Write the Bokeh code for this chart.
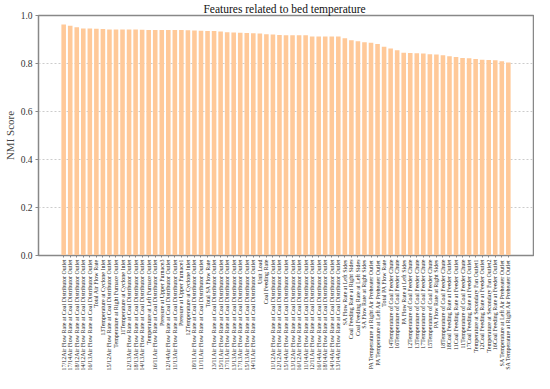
import math
from bokeh.plotting import figure
from bokeh.models import FixedTicker, Range1d, ColumnDataSource
from bokeh.embed import file_html
from bokeh.resources import INLINE

AF = "Air Flow Rate at Coal Distributor Outlet"
CFC = "Temperature of Coal Feeder Chute"
CFR = "Coal Feeding Rate at Feeder Outlet"

features = [
    "17/12" + AF, "17/14" + AF, "18/12" + AF, "14/12" + AF, "16/13" + AF,
    "Total Air Flow Rate", "13Temperature at Cyclone Inlet", "15/12" + AF,
    "Temperature at Right Furnace Outlet", "11Temperature at Cyclone Inlet",
    "12/13" + AF, "18/13" + AF, "14/13" + AF, "Temperature at Left Furnace Outlet",
    "16/11" + AF, "Pressure at Upper Furnace3", "12/14" + AF, "11/13" + AF,
    "Pressure at Upper Furnace1", "12Temperature at Cyclone Inlet",
    "18/11" + AF, "11/11" + AF, "Total SA Flow Rate", "13/11" + AF, "15/11" + AF,
    "17/11" + AF, "13/13" + AF, "17/13" + AF, "15/13" + AF, "14/11" + AF,
    "Unit Load", "Coal Feeding Rate", "11/12" + AF, "12/12" + AF, "15/14" + AF,
    "13/12" + AF, "16/12" + AF, "11/14" + AF, "12/11" + AF, "16/14" + AF,
    "18/14" + AF, "14/14" + AF, "13/14" + AF,
    "SA Flow Rate at Left Sides", "Coal Feeding Rate at Right Sides",
    "Coal Feeding Rate at Left Sides", "SA Flow Rate at Right Sides",
    "PA Temperature at Right Air Preheater Outlet",
    "PA Temperature at Left Air Preheater Outlet", "Total PA Flow Rate",
    "14" + CFC, "16" + CFC, "PA Flow Rate at Left Sides",
    "12" + CFC, "13" + CFC, "17" + CFC, "15" + CFC, "PA Flow Rate at Right Sides",
    "18" + CFC, "18" + CFR, "11" + CFR, "11" + CFC, "17" + CFR,
    "Temperature at Secondary Fan Outlet1", "12" + CFR,
    "Temperature at Secondary Fan Outlet2", "16" + CFR,
    "SA Temperature at Left Air Preheater Outlet",
    "SA Temperature at Right Air Preheater Outlet",
]

scores = [
    0.962, 0.957, 0.951, 0.946, 0.946, 0.945, 0.944, 0.942, 0.942, 0.942,
    0.942, 0.942, 0.941, 0.940, 0.940, 0.940, 0.940, 0.940, 0.940, 0.939,
    0.937, 0.936, 0.935, 0.935, 0.933, 0.930, 0.929, 0.928, 0.927, 0.926,
    0.925, 0.922, 0.921, 0.919, 0.918, 0.918, 0.918, 0.918, 0.913, 0.913,
    0.913, 0.913, 0.913, 0.905, 0.897, 0.893, 0.889, 0.886, 0.881, 0.870,
    0.863, 0.855, 0.845, 0.844, 0.843, 0.842, 0.839, 0.838, 0.834, 0.830,
    0.827, 0.823, 0.822, 0.819, 0.816, 0.815, 0.814, 0.809, 0.804,
]

y_ticks = [0.0, 0.2, 0.4, 0.6, 0.8, 1.0]

n = len(features)
xs = list(range(n))
src = ColumnDataSource(dict(x=xs, score=scores, name=features))

SERIF = "Liberation Serif"

p = figure(width=534, height=373, output_backend="svg", toolbar_location=None,
           x_range=Range1d(-3.85, n - 1 + 3.85), y_range=Range1d(0, 1.0),
           title="Features  related to bed temperature")
p.vbar(x="x", top="score", width=0.7, source=src, fill_color="#FFC999",
       line_color=None)

p.title.align = "center"
p.title.text_font = SERIF
p.title.text_font_style = "normal"
p.title.text_font_size = "11.5px"
p.title.text_color = "#111111"
p.title.offset = 0
p.title.standoff = 1

p.min_border_left = 0
p.min_border_right = 1
p.min_border_top = 0
p.min_border_bottom = 0

xa = p.xaxis[0]
xa.ticker = FixedTicker(ticks=xs)
xa.major_label_overrides = {i: f for i, f in enumerate(features)}
xa.major_label_orientation = math.pi / 2
xa.major_label_text_font = SERIF
xa.major_label_text_font_size = "6px"
xa.major_label_text_color = "#222222"
xa.major_label_standoff = 2
xa.major_tick_out = 2
xa.major_tick_in = 0
xa.minor_tick_out = 0
xa.minor_tick_in = 0
xa.axis_line_color = "#888888"
xa.major_tick_line_color = "#888888"

ya = p.yaxis[0]
ya.ticker = FixedTicker(ticks=y_ticks)
ya.major_label_overrides = {t: f"{t:.1f}" for t in y_ticks}
ya.major_label_text_font = SERIF
ya.major_label_text_font_size = "9.5px"
ya.major_label_text_color = "#333333"
ya.major_label_standoff = 3
ya.axis_label = "NMI Score"
ya.axis_label_text_font = SERIF
ya.axis_label_text_font_style = "normal"
ya.axis_label_text_font_size = "11px"
ya.axis_label_standoff = 2
ya.major_tick_out = 3
ya.major_tick_in = 0
ya.minor_tick_out = 0
ya.minor_tick_in = 0
ya.axis_line_color = "#888888"
ya.major_tick_line_color = "#888888"

p.xgrid.grid_line_color = None
p.ygrid.grid_line_color = "#cccccc"
p.ygrid.grid_line_dash = "2 2"
p.outline_line_color = "#888888"
p.outline_line_width = 1.5

open("out.html", "w").write(file_html(p, INLINE))
